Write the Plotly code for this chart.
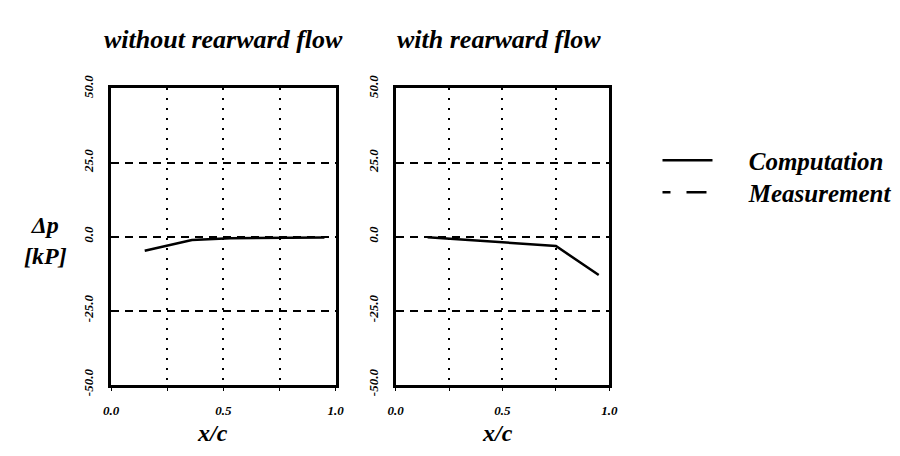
import plotly.graph_objects as go

# ---- data ----
x_without = [0.15, 0.25, 0.36, 0.53, 0.75, 0.95]
dp_without = [-4.8, -3.2, -1.2, -0.6, -0.4, -0.3]

x_with = [0.15, 0.25, 0.50, 0.75, 0.95]
dp_with = [-0.2, -0.7, -1.8, -3.2, -13.0]

x_meas = [None]
dp_meas = [None]

x_tickvals = [0.0, 0.25, 0.5, 0.75, 1.0]
x_ticktext = ["0.0", "", "0.5", "", "1.0"]
y_tickvals = [-50, -25, 0, 25, 50]
y_ticktext = ["-50.0", "-25.0", "0.0", "25.0", "50.0"]

panel_titles = ["without rearward flow", "with rearward flow"]
x_label = "x/c"
y_label = "Δp<br>[kP]"
series_names = ["Computation", "Measurement"]

SERIF = "Liberation Serif"
PAD = "\u00a0" * 5

fig = go.Figure()

fig.add_trace(go.Scatter(x=x_without, y=dp_without, mode="lines",
                         line=dict(color="black", width=2.5),
                         name=PAD + series_names[0], legend="legend",
                         xaxis="x", yaxis="y"))
fig.add_trace(go.Scatter(x=x_with, y=dp_with, mode="lines",
                         line=dict(color="black", width=2.5),
                         name=PAD + series_names[0], showlegend=False,
                         xaxis="x2", yaxis="y2"))
fig.add_trace(go.Scatter(x=x_meas, y=dp_meas, mode="lines",
                         line=dict(color="black", width=2.5, dash="8px,16px,20px,10px"),
                         name=PAD + series_names[1], showlegend=True, legend="legend2",
                         xaxis="x", yaxis="y"))

common_x = dict(range=[0, 1], tickvals=x_tickvals, ticktext=x_ticktext,
                showline=True, linecolor="black", linewidth=2.5, mirror=True,
                showgrid=True, gridcolor="black", gridwidth=1.5, griddash="2px,8px",
                zeroline=False, ticks="outside", ticklen=4, tickcolor="black",
                ticklabelstandoff=8,
                tickfont=dict(family=SERIF, size=13, color="black", style="italic", weight="bold"))
common_y = dict(range=[-50, 50], tickvals=y_tickvals, ticktext=y_ticktext,
                showline=True, linecolor="black", linewidth=2.5, mirror=True,
                showgrid=True, gridcolor="black", gridwidth=1.5, griddash="8px,6px",
                zeroline=False, ticks="", tickangle=-90, ticklabelstandoff=10,
                tickfont=dict(family=SERIF, size=13, color="black", style="italic", weight="bold"),
                domain=[63 / 456, 377 / 456])

legend_font = dict(family=SERIF, size=25, color="black", style="italic", weight="bold")
fig.update_layout(
    width=900, height=456,
    margin=dict(l=0, r=0, t=0, b=0),
    paper_bgcolor="white", plot_bgcolor="white",
    xaxis=dict(domain=[105 / 900, 334 / 900], anchor="y", **common_x),
    yaxis=dict(anchor="x", **common_y),
    xaxis2=dict(domain=[395 / 900, 613 / 900], anchor="y2", **common_x),
    yaxis2=dict(anchor="x2", **common_y),
    showlegend=True,
    legend=dict(x=662 / 900, y=(456 - 131) / 456, xanchor="left", yanchor="top",
                bgcolor="rgba(0,0,0,0)", itemwidth=50, font=legend_font),
    legend2=dict(x=662 / 900, y=(456 - 165) / 456, xanchor="left", yanchor="top",
                 bgcolor="rgba(0,0,0,0)", itemwidth=50, font=legend_font),
)

title_font = dict(family=SERIF, size=26, color="black", style="italic", weight="bold")
for cx, t in zip([220, 500], panel_titles):
    fig.add_annotation(x=cx / 900, y=(456 - 27) / 456, xref="paper", yref="paper",
                       text=t, showarrow=False, xanchor="center", yanchor="middle",
                       font=title_font)

label_font = dict(family=SERIF, size=24, color="black", style="italic", weight="bold")
for cx in [208, 499]:
    fig.add_annotation(x=cx / 900, y=(456 - 444) / 456, xref="paper", yref="paper",
                       text=x_label, showarrow=False, xanchor="center", yanchor="middle",
                       font=label_font)

fig.add_annotation(x=38 / 900, y=(456 - 240) / 456, xref="paper", yref="paper",
                   text=y_label, showarrow=False, xanchor="center", yanchor="middle",
                   font=dict(family=SERIF, size=24, color="black", style="italic", weight="bold"))

fig.write_html("out.html")
